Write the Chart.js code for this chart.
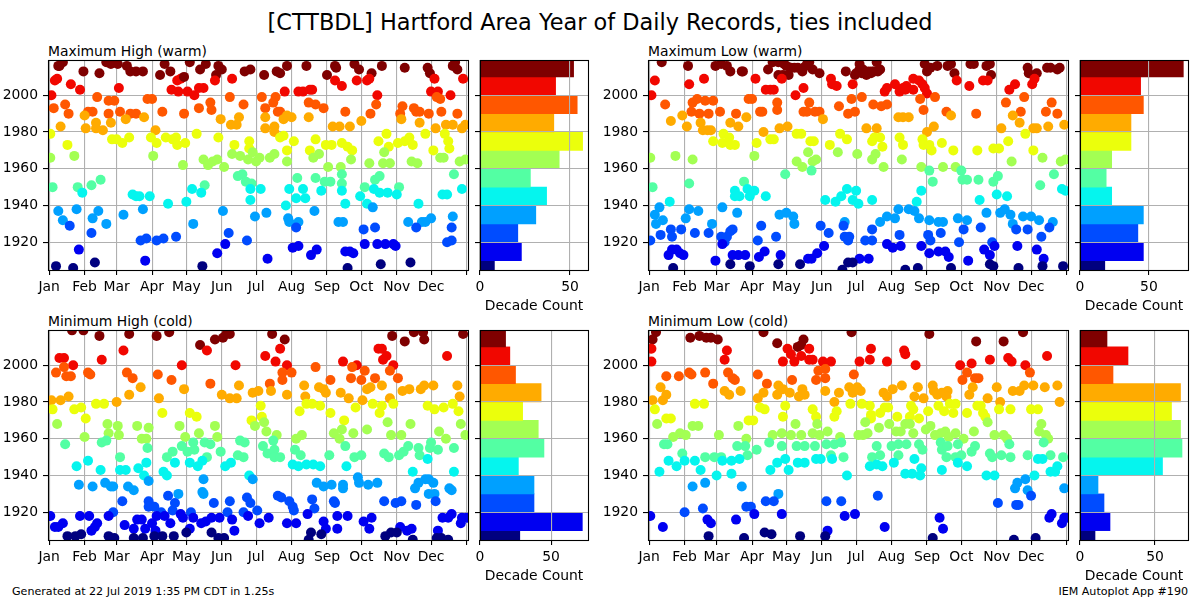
<!DOCTYPE html>
<html><head><meta charset="utf-8">
<style>
html,body{margin:0;padding:0;background:#fff;width:1200px;height:600px;overflow:hidden;font-family:"DejaVu Sans",sans-serif;color:#000}
canvas{position:absolute}
.t{position:absolute;white-space:nowrap;line-height:1}
</style>
<script src="https://cdn.jsdelivr.net/npm/chart.js@4"></script>
</head><body>
<div class="t" style="left:0;width:1200px;text-align:center;top:11px;font-size:22.42px">[CTTBDL] Hartford Area Year of Daily Records, ties included</div>
<div class="t" style="left:48px;top:45px;font-size:13.9px">Maximum High (warm)</div>
<div class="t" style="left:648px;top:45px;font-size:13.9px">Maximum Low (warm)</div>
<div class="t" style="left:48px;top:315px;font-size:13.9px">Minimum High (cold)</div>
<div class="t" style="left:648px;top:315px;font-size:13.9px">Minimum Low (cold)</div>
<div class="t" style="left:12px;top:586px;font-size:11.1px">Generated at 22 Jul 2019 1:35 PM CDT in 1.25s</div>
<div class="t" style="right:12px;top:586px;font-size:11.1px">IEM Autoplot App #190</div>
<script>
const monthLabels = ['Jan','Feb','Mar','Apr','May','Jun','Jul','Aug','Sep','Oct','Nov','Dec',''];
const monthStarts = [1,32,60,91,121,152,182,213,244,274,305,335,366];
const yearTicks = [1920,1940,1960,1980,2000];
const countTicks = [0,50];
const decadeCenters = [1905,1915,1925,1935,1945,1955,1965,1975,1985,1995,2005,2015];
const decadeColors = ['#00007f','#0000f1','#004cff','#00a0ff','#05f5ee','#53ffa3','#a3ff53','#ebff0c','#ffab00','#ff5700','#f10700','#7f0000'];

const maxHighCounts = [8,23,21,31,37,28,44,57,41,54,42,52];
const maxLowCounts  = [18,46,42,46,23,19,23,37,37,46,44,75];
const minHighCounts = [28,72,38,38,27,45,41,30,43,25,21,18];
const minLowCounts  = [10,20,16,12,55,68,67,61,67,22,32,18];

const maxHighDays = [
10,13,9,31,45,51,55,61,69,72,77,83,98,102,107,124,133,138,149,152,147,172,177,189,200,203,209,226,244,251,252,268,272,283,292,312,332,334,356,358,354,
3,6,8,20,28,62,108,114,113,116,119,122,128,132,136,146,161,207,219,223,229,231,251,257,270,279,281,288,335,341,338,352,363,
5,15,18,35,39,43,53,58,53,63,72,77,87,91,100,119,132,142,143,159,171,187,199,197,190,201,203,228,234,241,260,282,287,308,310,320,322,325,333,340,343,344,358,
11,32,33,42,42,48,55,68,84,94,151,160,165,167,190,190,198,198,206,209,213,228,249,255,264,274,309,325,339,348,354,362,365,
2,17,56,60,65,71,90,95,103,109,112,113,120,130,149,163,176,176,203,206,209,215,229,234,243,248,257,262,266,289,296,298,306,312,316,319,330,337,347,350,351,
2,23,92,118,136,140,144,148,154,161,168,175,179,182,185,194,198,209,232,237,245,256,265,281,293,294,299,318,323,343,346,360,365,
4,26,38,46,137,166,170,173,178,218,234,242,247,257,257,277,286,290,307,355,
30,74,77,80,89,105,121,126,134,177,177,186,208,211,217,223,225,239,257,260,273,279,285,290,297,305,324,345,349,362,
9,13,25,39,44,51,66,83,127,153,181,191,210,211,219,233,254,258,284,315,327,330,335,354,
19,38,81,86,95,101,112,158,174,217,276,286,322,353,349,353,
27,85,148,155,192,214,219,230,235,260,264,267,277,288,295,302,304,
7,22,41,135,262,291,317];
const maxHighYears = [
2016,2018,2016,2013,2012,2018,2017,2017,2016,2013,2013,2013,2011,2017,2013,2018,2014,2017,2016,2014,2011,2013,2014,2011,2013,2012,2016,2016,2011,2016,2015,2017,2014,2012,2016,2015,2015,2012,2018,2014,2016,
2000,2008,2009,2006,2003,2004,2003,2002,2008,2009,2010,2002,2000,2004,2004,2008,2009,2002,2002,2002,2003,2003,2008,2005,2008,2008,2009,2000,2002,2002,2009,2000,2009,
1993,1995,1990,1991,1991,1999,1997,1997,1990,1991,1990,1990,1998,1998,1991,1990,1993,1996,1992,1999,1995,1999,1999,1996,1993,1991,1991,1996,1995,1993,1991,1990,1995,1990,1994,1993,1991,1991,1990,1999,1998,1991,1990,
1983,1989,1982,1982,1985,1981,1985,1987,1988,1981,1987,1984,1984,1988,1988,1982,1983,1980,1987,1989,1988,1988,1983,1983,1983,1986,1987,1985,1982,1984,1984,1982,1984,
1979,1973,1976,1976,1974,1977,1977,1974,1977,1976,1977,1973,1974,1979,1977,1973,1975,1971,1977,1978,1970,1975,1970,1976,1973,1973,1974,1972,1970,1975,1979,1972,1974,1975,1977,1973,1979,1970,1979,1975,1971,
1966,1967,1967,1962,1965,1962,1964,1965,1961,1968,1967,1965,1969,1964,1966,1966,1968,1964,1966,1968,1961,1961,1965,1963,1963,1969,1963,1964,1963,1966,1966,1964,1965,
1950,1950,1951,1954,1951,1956,1957,1953,1952,1955,1955,1953,1953,1957,1952,1950,1954,1956,1950,1957,
1947,1946,1945,1945,1945,1941,1942,1949,1947,1949,1943,1949,1940,1949,1944,1949,1944,1948,1948,1941,1945,1941,1949,1947,1947,1946,1941,1946,1946,1949,
1937,1932,1938,1933,1937,1930,1935,1938,1930,1937,1934,1936,1933,1931,1931,1937,1931,1931,1939,1931,1931,1931,1933,1934,
1929,1925,1921,1922,1921,1922,1923,1925,1921,1928,1927,1928,1928,1928,1920,1921,
1916,1910,1914,1919,1911,1917,1918,1913,1916,1915,1915,1914,1919,1919,1919,1919,1918,
1907,1906,1909,1907,1906,1908,1909];

const maxLowDays = [
12,35,59,64,69,72,82,83,105,109,114,119,114,118,123,125,131,135,139,144,150,173,181,185,187,191,195,198,201,200,242,247,244,253,262,265,268,282,285,296,299,300,332,333,340,349,352,358,360,185,189,193,196,203,182,188,121,128,141,136,
3,6,36,49,94,103,107,110,117,129,136,160,161,165,179,207,209,216,220,223,226,225,232,232,237,240,242,244,270,281,293,297,316,321,336,338,
15,38,39,43,45,50,53,57,63,77,88,91,98,100,113,113,136,139,141,146,150,167,175,181,178,187,197,204,209,238,241,251,261,287,313,326,329,348,353,358,
20,30,34,46,48,52,55,72,79,86,101,115,122,153,191,200,219,223,228,265,250,244,309,319,325,337,340,350,364,
57,65,66,71,72,76,95,107,110,130,134,142,145,159,168,174,196,198,203,205,220,223,240,241,246,248,257,267,288,302,307,315,330,337,
2,24,39,93,130,135,140,144,147,166,183,196,199,206,222,239,258,269,318,345,361,365,
4,36,84,120,143,246,249,274,275,279,289,302,306,343,355,
19,76,76,80,87,89,93,103,155,164,169,174,179,182,184,196,235,239,290,305,314,362,365,
6,10,7,13,33,36,44,56,65,78,115,121,127,128,172,203,209,216,219,228,233,237,246,254,258,271,279,296,308,312,317,319,328,335,342,354,
2,11,20,21,29,41,53,64,69,72,74,67,96,99,112,151,158,171,172,176,175,190,196,196,220,245,247,256,272,276,291,322,332,344,351,301,
18,21,25,28,31,59,65,74,79,85,97,102,116,140,143,148,154,185,193,209,214,221,239,246,254,260,263,280,294,299,303,323,340,346,
22,72,89,114,133,170,175,179,225,236,265,299,302,324,345,363];
const maxLowYears = [
2018,2016,2016,2017,2016,2013,2013,2013,2014,2018,2018,2017,2011,2011,2011,2015,2015,2013,2017,2014,2012,2013,2011,2017,2012,2011,2012,2013,2013,2018,2017,2015,2013,2016,2016,2017,2012,2017,2017,2016,2017,2011,2015,2012,2012,2015,2015,2014,2015,2014,2013,2013,2013,2014,2012,2014,2016,2015,2018,2015,
2000,2008,2006,2009,2009,2003,2003,2003,2009,2000,2004,2009,2006,2005,2006,2002,2004,2006,2002,2004,2005,2003,2003,2009,2008,2006,2004,2001,2008,2005,2008,2008,2003,2006,2006,2009,
1995,1991,1996,1998,1990,1997,1990,1997,1991,1990,1998,1998,1991,1991,1992,1996,1991,1991,1996,1991,1991,1994,1990,1991,1998,1999,1995,1994,1995,1998,1992,1999,1991,1990,1996,1991,1999,1991,1996,1990,
1986,1989,1983,1985,1981,1981,1981,1985,1983,1988,1980,1982,1983,1987,1982,1982,1988,1988,1988,1989,1983,1980,1982,1989,1985,1982,1982,1983,1984,
1975,1974,1979,1977,1973,1973,1974,1976,1976,1979,1979,1975,1975,1973,1979,1976,1975,1977,1977,1972,1977,1973,1976,1973,1973,1970,1974,1970,1970,1971,1971,1975,1979,1970,
1966,1967,1965,1967,1964,1961,1969,1964,1965,1969,1968,1965,1968,1961,1965,1961,1961,1961,1964,1966,1964,1965,
1950,1952,1953,1957,1959,1959,1953,1959,1954,1954,1954,1953,1956,1951,1957,
1942,1948,1945,1945,1949,1945,1948,1945,1943,1942,1945,1949,1943,1948,1941,1943,1942,1948,1943,1946,1945,1949,1948,
1935,1939,1930,1932,1933,1938,1937,1930,1939,1936,1935,1936,1934,1930,1931,1931,1934,1933,1938,1938,1937,1933,1932,1931,1931,1933,1932,1936,1936,1938,1935,1930,1934,1934,1932,1931,
1921,1924,1927,1923,1927,1925,1925,1923,1923,1926,1927,1920,1921,1929,1923,1929,1925,1929,1923,1923,1921,1921,1927,1921,1924,1924,1921,1925,1920,1927,1928,1927,1927,1923,1928,1920,
1913,1916,1916,1914,1913,1910,1919,1913,1913,1913,1912,1915,1913,1911,1911,1914,1918,1911,1911,1919,1917,1918,1918,1914,1915,1915,1912,1910,1916,1913,1918,1918,1916,1911,
1906,1908,1907,1908,1908,1905,1909,1909,1905,1906,1906,1908,1907,1906,1907,1907];

const minHighDays = [
21,31,45,71,95,106,133,146,153,156,159,196,207,301,312,320,328,329,363,
10,14,22,47,66,117,139,164,190,199,203,209,258,270,289,292,296,293,302,349,
7,14,16,20,35,37,69,74,96,108,142,194,205,205,213,234,247,265,266,274,277,286,299,306,
3,11,18,60,71,81,97,119,152,159,165,167,179,184,195,209,224,225,237,241,243,256,263,275,279,282,292,299,310,316,326,329,337,358,360,
4,23,29,33,42,49,100,124,130,178,186,187,220,226,231,238,247,259,269,284,290,292,302,332,338,346,354,359,
8,32,52,53,61,62,78,82,86,88,115,120,132,146,148,181,189,191,200,217,222,250,255,257,267,279,297,300,309,317,342,348,361,365,
15,47,51,63,87,104,109,117,122,127,128,137,142,139,151,166,171,168,172,188,192,197,198,198,203,216,221,246,260,268,274,294,298,307,311,315,324,325,334,335,341,355,
25,35,46,63,68,79,84,86,101,104,111,124,131,135,155,160,176,214,219,226,232,238,261,319,332,355,
27,39,50,55,57,70,75,88,114,136,135,136,179,235,241,248,258,258,271,272,280,288,321,324,330,333,337,333,338,351,353,
65,88,88,93,99,105,109,111,145,159,174,177,171,183,201,204,211,214,215,231,233,250,251,294,304,309,322,339,157,125,57,
2,6,9,13,28,36,38,43,41,53,67,75,78,82,85,91,94,95,102,107,116,118,124,127,134,138,143,150,161,163,175,185,193,209,217,227,241,243,253,253,262,276,283,281,308,314,318,341,345,350,353,361,362,366,
17,24,29,53,58,75,83,93,100,110,121,143,149,154,228,230,239,295,300,305,319,340,344,350];
const minHighYears = [
2019,2019,2016,2017,2016,2018,2011,2014,2015,2017,2017,2017,2014,2016,2013,2018,2018,2014,2017,
2004,2004,2000,2003,2008,2000,2008,2000,2005,2002,2009,2000,2002,2000,2009,2009,2005,2003,2000,2005,
1996,1999,1994,1994,1996,1995,1996,1993,1995,1992,1990,1990,1996,1992,1996,1999,1992,1993,1999,1992,1997,1993,1997,1993,
1981,1981,1983,1980,1984,1988,1982,1987,1984,1982,1982,1989,1985,1986,1986,1984,1989,1983,1988,1987,1985,1985,1982,1981,1987,1988,1989,1982,1986,1987,1987,1989,1989,1989,1983,
1976,1976,1977,1971,1979,1979,1974,1974,1972,1970,1978,1972,1975,1979,1979,1978,1974,1970,1977,1979,1974,1978,1979,1978,1976,1977,1979,1975,
1968,1961,1968,1963,1967,1962,1967,1960,1960,1966,1967,1961,1963,1967,1961,1967,1969,1964,1962,1960,1962,1963,1960,1965,1963,1965,1969,1962,1962,1968,1964,1960,1968,1962,
1957,1958,1959,1950,1955,1950,1953,1956,1953,1958,1954,1958,1957,1950,1953,1951,1950,1959,1958,1956,1952,1959,1954,1950,1950,1954,1951,1951,1956,1950,1951,1952,1950,1951,1953,1956,1955,1951,1955,1958,1954,1955,
1945,1948,1943,1943,1943,1944,1940,1947,1942,1940,1947,1947,1945,1948,1945,1947,1940,1946,1945,1946,1946,1945,1945,1942,1949,1942,
1935,1934,1936,1934,1934,1934,1932,1937,1930,1938,1931,1930,1938,1936,1934,1935,1935,1933,1939,1936,1935,1936,1933,1936,1938,1938,1936,1930,1930,1933,1932,
1926,1926,1923,1923,1920,1929,1921,1925,1925,1926,1928,1925,1920,1921,1929,1928,1926,1923,1921,1927,1922,1926,1925,1926,1925,1926,1924,1926,1920,1920,1920,
1918,1912,1912,1914,1918,1918,1910,1914,1912,1918,1913,1911,1916,1916,1911,1914,1910,1918,1918,1914,1919,1917,1911,1917,1914,1915,1917,1917,1916,1910,1918,1914,1917,1914,1914,1919,1915,1911,1911,1918,1918,1915,1917,1911,1912,1910,1911,1910,1917,1917,1919,1914,1917,1917,
1907,1907,1908,1907,1906,1906,1906,1907,1907,1907,1909,1909,1906,1906,1905,1909,1908,1907,1909,1909,1905,1906,1906,1905];

const minLowDays = [
7,4,37,45,51,55,61,101,113,131,136,134,178,246,287,311,328,
3,3,69,67,118,122,125,128,134,141,141,144,153,160,185,194,195,209,224,225,234,273,283,299,315,318,330,349,
16,27,36,38,50,57,70,74,76,96,104,126,147,149,155,155,180,275,279,286,289,334,
4,11,13,16,67,71,81,96,101,113,114,118,124,132,135,137,155,163,167,176,179,183,186,206,209,214,222,233,236,241,249,250,253,257,262,261,281,284,297,305,308,319,325,329,337,347,358,360,
6,16,20,41,49,88,92,98,102,120,118,144,147,163,165,177,187,195,195,194,203,207,210,218,229,230,232,237,245,254,259,264,267,269,279,288,291,293,295,307,317,335,341,
8,22,28,33,39,44,62,79,86,109,117,129,125,134,144,148,150,157,168,184,188,192,190,202,211,217,221,225,229,232,243,247,251,256,260,263,269,276,285,297,303,311,314,342,344,348,350,
14,17,30,50,58,64,78,85,87,95,106,117,130,137,146,156,163,169,160,171,200,196,203,213,219,226,219,237,240,256,257,262,261,269,274,271,283,286,299,301,309,316,317,332,346,352,363,
10,18,25,32,41,46,60,65,73,73,80,107,113,120,123,131,137,147,151,161,174,194,200,205,215,225,231,233,238,239,257,271,279,296,303,341,345,352,356,358,338,
39,50,82,114,321,323,330,332,364,
48,32,86,90,103,110,156,169,201,306,322,324,335,
2,13,52,55,77,93,117,157,172,181,207,255,258,351,353,362,364,366,
53,84,102,108,133,155,249,320,339];
const minLowYears = [
2018,2014,2015,2016,2015,2015,2014,2018,2012,2010,2014,2011,2018,2017,2013,2013,2018,
2009,2002,2008,2003,2002,2009,2006,2002,2005,2009,2003,2003,2002,2002,2002,2003,2009,2002,2008,2006,2000,2000,2001,2003,2004,2002,2000,2005,
1994,1994,1996,1995,1996,1990,1996,1993,1992,1995,1990,1992,1992,1997,1998,1993,1995,1992,1996,1993,1993,1996,
1981,1988,1981,1984,1986,1984,1986,1982,1985,1984,1989,1987,1985,1983,1987,1984,1986,1980,1985,1988,1985,1988,1986,1985,1983,1987,1989,1983,1988,1982,1989,1986,1984,1985,1986,1983,1984,1988,1982,1988,1980,1986,1986,1989,1989,1988,1989,1980,
1976,1971,1971,1979,1979,1970,1970,1977,1976,1978,1972,1976,1972,1972,1975,1979,1979,1973,1971,1978,1974,1977,1977,1972,1972,1978,1976,1971,1975,1978,1975,1979,1974,1979,1974,1978,1978,1974,1972,1976,1976,1976,1976,
1968,1961,1963,1962,1967,1967,1962,1967,1960,1962,1963,1968,1962,1962,1963,1968,1962,1964,1961,1962,1962,1963,1969,1966,1968,1964,1964,1968,1968,1963,1965,1967,1962,1963,1964,1961,1963,1960,1964,1969,1962,1962,1960,1964,1968,1962,1960,
1957,1957,1952,1950,1950,1950,1956,1956,1951,1954,1958,1956,1956,1956,1956,1957,1957,1958,1951,1950,1956,1950,1951,1956,1957,1957,1951,1957,1954,1958,1954,1956,1950,1950,1951,1957,1953,1956,1952,1950,1951,1957,1950,1951,1958,1951,1950,
1942,1948,1945,1948,1948,1943,1940,1948,1941,1948,1949,1943,1947,1949,1943,1947,1947,1949,1949,1949,1940,1945,1946,1945,1947,1941,1941,1949,1940,1944,1943,1947,1945,1940,1940,1949,1949,1942,1942,1945,1940,
1934,1936,1934,1930,1933,1936,1938,1932,1933,
1922,1920,1923,1923,1926,1926,1926,1926,1929,1925,1924,1924,1929,
1918,1912,1916,1914,1916,1919,1919,1910,1918,1919,1912,1917,1911,1917,1919,1914,1917,1917,
1907,1906,1909,1908,1907,1907,1906,1905,1906];

Chart.defaults.font.family = '"DejaVu Sans", sans-serif';
Chart.defaults.font.size = 13.9;
Chart.defaults.color = '#000';
Chart.defaults.animation = false;
Chart.defaults.responsive = false;
Chart.defaults.devicePixelRatio = 1;

const yMin = 1904.9, yMax = 2019.2;
const frame = {id:'frame', afterDraw(c){
  const a=c.chartArea, g=c.ctx; g.save(); g.strokeStyle='#000'; g.lineWidth=1.1;
  g.strokeRect(Math.round(a.left)+.5,Math.round(a.top)+.5,Math.round(a.width)-0,Math.round(a.height)-0); g.restore();
}};
const colorOf = y => decadeColors[Math.min(11,Math.floor((y-1900)/10))];
const grid = (z)=>({color:'#b0b0b0',lineWidth:1.1,tickColor:'#000',tickLength:5,tickWidth:1.1,z,offset:false});
function mkCanvas(l,t,w,h){const c=document.createElement('canvas');c.width=w;c.height=h;c.style.left=l+'px';c.style.top=t+'px';c.style.width=w+'px';c.style.height=h+'px';document.body.appendChild(c);return c;}

function scatter(left,top,days,years){
  const pts = days.map((d,i)=>({x:d,y:years[i]}));
  new Chart(mkCanvas(left-48,top-20,480,260),{type:'scatter',
    data:{datasets:[{data:pts,clip:0,showLine:false,pointRadius:5,pointHoverRadius:5,pointBorderWidth:0,
      pointBackgroundColor:pts.map(p=>colorOf(p.y))}]},
    options:{layout:{padding:{top:20,right:12,left:0,bottom:0}},plugins:{legend:{display:false},tooltip:{enabled:false}},
      scales:{
        x:{type:'linear',min:0,max:367.3,grid:grid(-1),border:{display:false},
          afterBuildTicks:s=>{s.ticks=monthStarts.map(v=>({value:v}));},
          afterFit:s=>{s.height=30;},
          ticks:{autoSkip:false,maxRotation:0,padding:4,callback:(v,i)=>monthLabels[i]}},
        y:{type:'linear',min:yMin,max:yMax,grid:grid(-1),border:{display:false},
          afterBuildTicks:s=>{s.ticks=yearTicks.map(v=>({value:v}));},
          afterFit:s=>{s.width=48;},
          ticks:{padding:5,callback:v=>String(v)}}
      }},plugins:[frame]});
}
function hist(left,top,counts,xMax){
  new Chart(mkCanvas(left-12,top-20,132,275),{type:'bar',
    data:{datasets:[{data:counts.map((c,i)=>({x:c,y:decadeCenters[i]})),backgroundColor:decadeColors,borderWidth:0,barPercentage:1,categoryPercentage:1}]},
    options:{indexAxis:'y',layout:{padding:{top:20,right:12,left:0,bottom:0}},plugins:{legend:{display:false},tooltip:{enabled:false}},
      scales:{
        x:{type:'linear',min:0,max:xMax,grid:grid(1),border:{display:false},offset:false,
          afterBuildTicks:s=>{s.ticks=countTicks.map(v=>({value:v}));},
          afterFit:s=>{s.height=45;},
          title:{display:true,text:'Decade Count',padding:{top:2,bottom:0},font:{size:13.9}},
          ticks:{padding:4,maxRotation:0,callback:v=>String(v)}},
        y:{type:'linear',offset:false,min:yMin,max:yMax,grid:grid(1),border:{display:false},
          afterBuildTicks:s=>{s.ticks=yearTicks.map(v=>({value:v}));},
          afterFit:s=>{s.width=12;},
          ticks:{callback:()=>''}}
      }},plugins:[frame]});
}
scatter(48,60,maxHighDays,maxHighYears); hist(480,60,maxHighCounts,60);
scatter(648,60,maxLowDays,maxLowYears);  hist(1080,60,maxLowCounts,78.4);
scatter(48,330,minHighDays,minHighYears); hist(480,330,minHighCounts,76);
scatter(648,330,minLowDays,minLowYears);  hist(1080,330,minLowCounts,72);
</script>
</body></html>
